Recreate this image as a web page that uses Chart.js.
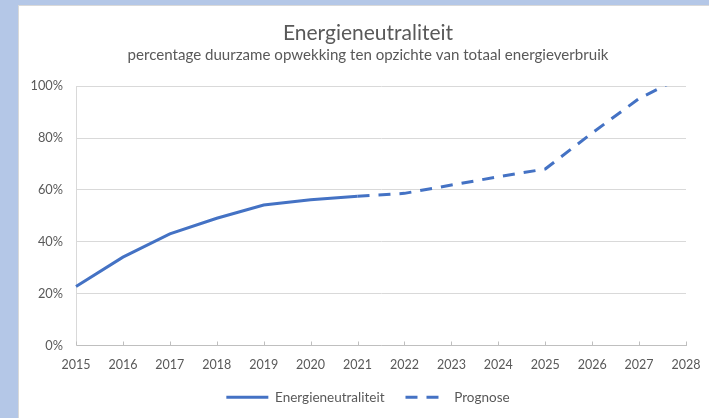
<!DOCTYPE html>
<html>
<head>
<meta charset="utf-8">
<script src="https://cdn.jsdelivr.net/npm/chart.js@4"></script>
<style>
  body { margin: 0; background: #b4c7e7; overflow: hidden; }
  #frame { position: absolute; left: 18px; top: 5px; width: 720px; height: 430px; background: #fff; border: 1px solid #d9d9d9; }
  #wrap { position: absolute; left: 0; top: 0; width: 709px; height: 418px; }
</style>
</head>
<body>
<div id="frame"></div>
<div id="wrap"><canvas id="chart"></canvas></div>
<script>
const years = ["2015", "2016", "2017", "2018", "2019", "2020", "2021", "2022", "2023", "2024", "2025", "2026", "2027", "2028"];
const realised = [22.8, 34.1, 43.1, 49.1, 54.2, 56.2, 57.6, null, null, null, null, null, null, null];
const forecast = [null, null, null, null, null, null, 57.6, 58.7, 61.9, 65.1, 68.1, 82.0, 95.3, 104.3];

const blue = "#4472c4";
const textColor = "#595959";
const font = "Lato, 'Open Sans', sans-serif";

// small tick marks pointing up into the plot, like the original
const innerTicks = {
  id: "innerTicks",
  afterLayout(chart) {
    // y labels stick out left of the narrow axis box, don't clip them
    chart.scales.y.left = 0;
    // legend sits closer to the axis than chart.js allows
    chart.legend.top -= 15;
    chart.legend.bottom -= 15;
  },
  afterDraw(chart) {
    const x = chart.scales.x;
    const ctx = chart.ctx;
    const bottom = chart.chartArea.bottom;
    ctx.save();
    ctx.strokeStyle = "#bfbfbf";
    ctx.lineWidth = 1;
    ctx.beginPath();
    x.ticks.forEach((t, i) => {
      const px = Math.round(x.getPixelForTick(i)) + 0.5;
      ctx.moveTo(px, bottom);
      ctx.lineTo(px, bottom - 4);
    });
    ctx.stroke();
    ctx.restore();
  }
};

new Chart(document.getElementById("chart"), {
  type: "line",
  data: {
    labels: years,
    datasets: [
      {
        label: "Energieneutraliteit",
        data: realised,
        borderColor: blue,
        backgroundColor: blue,
        borderWidth: 3,
        pointRadius: 0,
        tension: 0,
      },
      {
        label: "Prognose",
        data: forecast,
        borderColor: blue,
        backgroundColor: blue,
        borderWidth: 3,
        borderDash: [12, 9],
        pointRadius: 0,
        tension: 0,
      },
    ],
  },
  options: {
    responsive: true,
    maintainAspectRatio: false,
    animation: false,
    layout: { padding: { left: 50, right: 23, bottom: -11 } },
    plugins: {
      title: {
        display: true,
        text: "Energieneutraliteit",
        color: textColor,
        font: { family: font, size: 21, weight: "normal" },
        padding: { top: 21, bottom: 0 },
      },
      subtitle: {
        display: true,
        text: "percentage duurzame opwekking ten opzichte van totaal energieverbruik",
        color: textColor,
        font: { family: font, size: 15.1, weight: "normal" },
        padding: { top: 0, bottom: 22 },
      },
      legend: {
        position: "bottom",
        labels: {
          color: textColor,
          font: { family: font, size: 13.5 },
          usePointStyle: true,
          pointStyle: "line",
          pointStyleWidth: 42,
          padding: 21,
          generateLabels(chart) {
            const items = Chart.defaults.plugins.legend.labels.generateLabels(chart);
            items.forEach((item, i) => {
              item.lineDash = chart.data.datasets[i].borderDash || [];
              item.lineWidth = 3;
            });
            return items;
          },
        },
      },
      tooltip: { enabled: false },
    },
    scales: {
      x: {
        offset: false,
        afterFit(scale) { scale.paddingRight = 0; },
        grid: { display: false, drawTicks: false },
        border: { color: "#bfbfbf" },
        ticks: { color: textColor, font: { family: font, size: 12.5 }, padding: 12, maxRotation: 0 },
      },
      y: {
        min: 0,
        max: 100,
        afterFit(scale) { scale.width = 26; },
        grid: { color: "#d9d9d9", drawTicks: false },
        border: { color: "#d9d9d9" },
        ticks: {
          stepSize: 20,
          color: textColor,
          font: { family: font, size: 12.8 },
          padding: 13,
          callback: (v) => v + "%",
        },
      },
    },
  },
  plugins: [innerTicks],
});
</script>
</body>
</html>
